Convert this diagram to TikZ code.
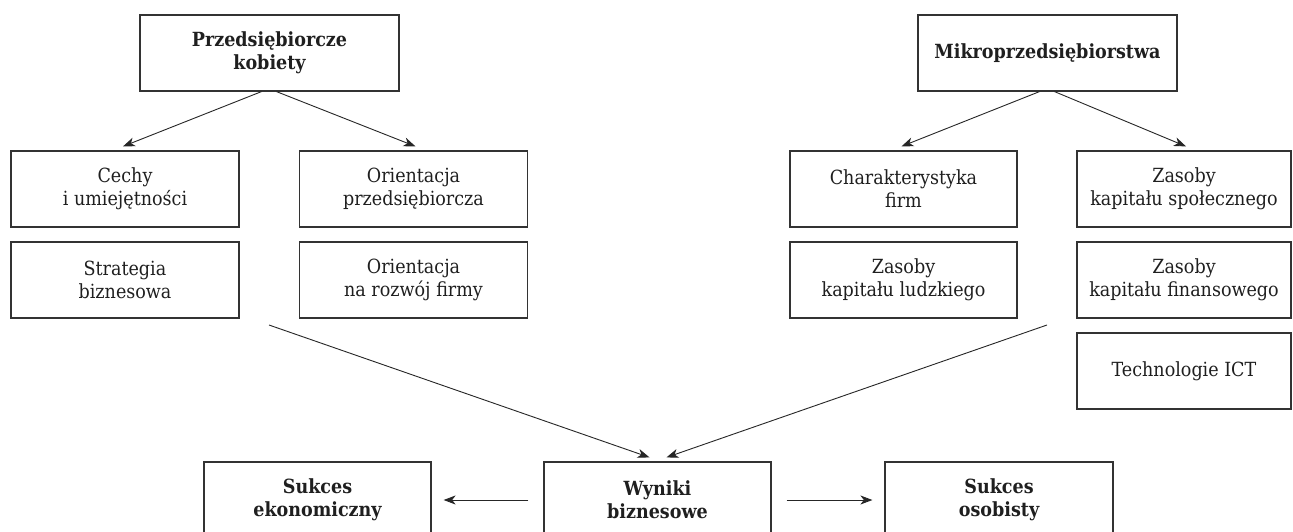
\documentclass[tikz,border=0pt]{standalone}
\usepackage{fontspec}
\setmainfont{DejaVu Serif Condensed}
\usetikzlibrary{arrows.meta}
\begin{document}
\begin{tikzpicture}[x=1pt,y=-1pt,
  box/.style={draw=black!80,line width=1.2pt,minimum height=76pt,inner sep=0pt,align=center,text=black!88,
    font=\fontsize{19.5}{23}\selectfont},
  bbox/.style={box,font=\fontsize{19.5}{23}\selectfont\bfseries},
  arr/.style={line width=0.9pt,draw=black!85,-{Stealth[length=12pt,width=9pt,inset=3.5pt]}}]
\clip (0,0) rectangle (1293,532);
\fill[white] (0,0) rectangle (1293,532);
% top boxes
\node[bbox,minimum width=259pt] (pk) at (269.5,53) {Przedsiębiorcze\\kobiety};
\node[bbox,minimum width=259pt] (mp) at (1047.5,53) {Mikroprzedsiębiorstwa};
% row 1
\node[box,minimum width=228pt] (cechy) at (125,189) {Cechy\\i umiejętności};
\node[box,minimum width=228pt] (orp) at (413.5,189) {Orientacja\\przedsiębiorcza};
\node[box,minimum width=227pt] (char) at (903.5,189) {Charakterystyka\\firm};
\node[box,minimum width=214pt] (zsp) at (1184,189) {Zasoby\\kapitału społecznego};
% row 2
\node[box,minimum width=228pt] (strat) at (125,280) {Strategia\\biznesowa};
\node[box,minimum width=228pt] (orr) at (413.5,280) {Orientacja\\na rozwój firmy};
\node[box,minimum width=227pt] (zlu) at (903.5,280) {Zasoby\\kapitału ludzkiego};
\node[box,minimum width=214pt] (zfi) at (1184,280) {Zasoby\\kapitału finansowego};
% row 3
\node[box,minimum width=214pt] (ict) at (1184,371) {Technologie ICT};
% bottom
\node[bbox,minimum width=227pt] (se) at (317.5,500) {Sukces\\ekonomiczny};
\node[bbox,minimum width=227pt] (wb) at (657.5,500) {Wyniki\\biznesowe};
\node[bbox,minimum width=228pt] (so) at (999,500) {Sukces\\osobisty};
% group coordinates
\coordinate (gl) at (269,325);
\coordinate (gr) at (1047,325);
% arrows
\draw[arr] ([xshift=-8pt]pk.south) -- ([xshift=-2pt,yshift=4pt]cechy.north);
\draw[arr] ([xshift=7pt]pk.south) -- ([xshift=2pt,yshift=4pt]orp.north);
\draw[arr] ([xshift=-8pt]mp.south) -- ([xshift=-2pt,yshift=4pt]char.north);
\draw[arr] ([xshift=7pt]mp.south) -- ([xshift=2pt,yshift=4pt]zsp.north);
\draw[arr] (gl) -- ([xshift=-8pt,yshift=4pt]wb.north);
\draw[arr] (gr) -- ([xshift=9pt,yshift=4pt]wb.north);
\draw[arr] ([xshift=-15pt]wb.west) -- ([xshift=12pt]se.east);
\draw[arr] ([xshift=15pt]wb.east) -- ([xshift=-12pt]so.west);
\end{tikzpicture}
\end{document}
